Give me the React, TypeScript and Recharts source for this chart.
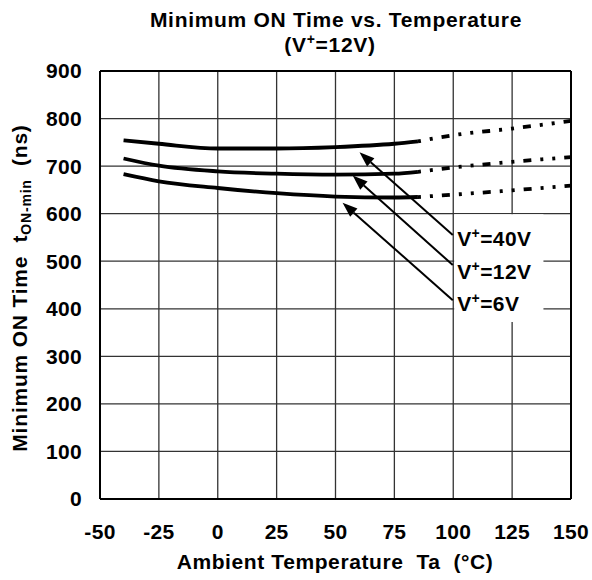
import { LineChart, Line, XAxis, YAxis, CartesianGrid, ReferenceArea, ReferenceLine } from 'recharts';

const xTicks = [-50, -25, 0, 25, 50, 75, 100, 125, 150];
const yTicks = [0, 100, 200, 300, 400, 500, 600, 700, 800, 900];

// measured curves (solid = guaranteed range, dotted = extrapolated)
const v40Solid = [
  { t: -40, v: 754 }, { t: -25, v: 747 }, { t: 0, v: 737 }, { t: 25, v: 737 },
  { t: 50, v: 740 }, { t: 75, v: 747 }, { t: 85, v: 752 },
];
const v40Dotted = [{ t: 85, v: 752 }, { t: 100, v: 765 }, { t: 125, v: 779 }, { t: 150, v: 795 }];

const v12Solid = [
  { t: -40, v: 716 }, { t: -25, v: 701 }, { t: 0, v: 689 }, { t: 25, v: 684 },
  { t: 50, v: 682 }, { t: 75, v: 684 }, { t: 85, v: 688 },
];
const v12Dotted = [{ t: 85, v: 688 }, { t: 100, v: 697 }, { t: 125, v: 709 }, { t: 150, v: 719 }];

const v6Solid = [
  { t: -40, v: 683 }, { t: -25, v: 668 }, { t: 0, v: 654 }, { t: 25, v: 643 },
  { t: 50, v: 636 }, { t: 75, v: 634 }, { t: 85, v: 635 },
];
const v6Dotted = [{ t: 85, v: 635 }, { t: 100, v: 640 }, { t: 125, v: 649 }, { t: 150, v: 659 }];

const arrows = [
  { from: { x: 99.8, y: 555 }, to: { x: 60.2, y: 729 } },
  { from: { x: 99.8, y: 492 }, to: { x: 57.3, y: 680 } },
  { from: { x: 99.8, y: 418 }, to: { x: 53.0, y: 623 } },
];
const seriesLabels = ['40V', '12V', '6V'];

const font = '"Liberation Sans", Arial, sans-serif';
const dash = '3 9 3 9 8 9';

const Arrow = (p: any) => {
  const { x1, y1, x2, y2 } = p;
  const ang = Math.atan2(y2 - y1, x2 - x1);
  const len = 15;
  const half = 5.5;
  const bx = x2 - len * Math.cos(ang);
  const by = y2 - len * Math.sin(ang);
  const px = -Math.sin(ang) * half;
  const py = Math.cos(ang) * half;
  return (
    <g>
      <line x1={x1} y1={y1} x2={bx} y2={by} stroke="#000" strokeWidth={2} />
      <polygon points={`${x2},${y2} ${bx + px},${by + py} ${bx - px},${by - py}`} fill="#000" />
    </g>
  );
};

const LabelBox = (p: any) => {
  const { x, y } = p.viewBox;
  return (
    <g>
      {seriesLabels.map((s, i) => (
        <text key={s} x={x + 3} y={y + 32 + i * 32.5} fontFamily={font} fontWeight="bold" fontSize={21} letterSpacing={0.4} fill="#000">
          V<tspan fontSize={14} dy={-8}>+</tspan><tspan dy={8}>={s}</tspan>
        </text>
      ))}
    </g>
  );
};

const YTitle = () => {
  const cx = 27;
  const cy = 288;
  return (
    <text x={cx} y={cy} transform={`rotate(-90 ${cx} ${cy})`} textAnchor="middle" fontFamily={font}
      fontWeight="bold" fontSize={21} letterSpacing={0.8} fill="#000" style={{ whiteSpace: 'pre' }}>
      Minimum ON Time  t<tspan fontSize={14} dy={4}>ON-min</tspan><tspan dy={-4}>  (ns)</tspan>
    </text>
  );
};

const XTitle = () => (
  <text x={335} y={569} textAnchor="middle" fontFamily={font} fontWeight="bold" fontSize={21}
    letterSpacing={0.6} fill="#000" style={{ whiteSpace: 'pre' }}>
    Ambient Temperature  Ta  (°C)
  </text>
);

const tickStyle = { fontFamily: font, fontWeight: 'bold', fontSize: 21, fill: '#000', letterSpacing: 0.3 };

export default function App() {
  return (
    <div style={{ position: 'absolute', left: 0, top: 0, width: 592, height: 580, background: '#fff' }}>
      <svg width={592} height={60} style={{ position: 'absolute', left: 0, top: 0 }}>
        <text x={336} y={27} textAnchor="middle" fontFamily={font} fontWeight="bold" fontSize={21} letterSpacing={0.7}>
          Minimum ON Time vs. Temperature
        </text>
        <text x={330} y={52} textAnchor="middle" fontFamily={font} fontWeight="bold" fontSize={21} letterSpacing={0.7}>
          (V<tspan fontSize={14} dy={-8}>+</tspan><tspan dy={8}>=12V)</tspan>
        </text>
      </svg>
      <LineChart width={592} height={580} margin={{ top: 71, right: 21, bottom: 51, left: 40 }}
        style={{ position: 'absolute', left: 0, top: 0 }}>
        <CartesianGrid stroke="#333" strokeWidth={1.3} />
        <XAxis type="number" dataKey="t" domain={[-50, 150]} ticks={xTicks} interval={0}
          tickLine={false} tickSize={0} tickMargin={25} height={30}
          axisLine={{ stroke: '#000', strokeWidth: 2 }} tick={tickStyle} label={<XTitle />} allowDuplicatedCategory={false} />
        <YAxis type="number" domain={[0, 900]} ticks={yTicks} interval={0} width={60}
          tickLine={false} tickSize={0} tickMargin={18}
          axisLine={{ stroke: '#000', strokeWidth: 2 }} tick={tickStyle} label={<YTitle />} />
        <ReferenceLine y={900} stroke="#000" strokeWidth={2} />
        <ReferenceLine x={150} stroke="#000" strokeWidth={2} />
        <ReferenceArea x1={100.4} x2={138.3} y1={372} y2={599} fill="#fff" fillOpacity={1} stroke="none"
          label={<LabelBox />} />
        {arrows.map((a, i) => (
          <ReferenceLine key={i} segment={[a.from, a.to]} shape={<Arrow />} />
        ))}
        <Line data={v40Solid} dataKey="v" type="monotone" stroke="#000" strokeWidth={3.8} dot={false} isAnimationActive={false} />
        <Line data={v40Dotted} dataKey="v" type="monotone" stroke="#000" strokeWidth={3.8} strokeDasharray={dash} dot={false} isAnimationActive={false} />
        <Line data={v12Solid} dataKey="v" type="monotone" stroke="#000" strokeWidth={3.8} dot={false} isAnimationActive={false} />
        <Line data={v12Dotted} dataKey="v" type="monotone" stroke="#000" strokeWidth={3.8} strokeDasharray={dash} dot={false} isAnimationActive={false} />
        <Line data={v6Solid} dataKey="v" type="monotone" stroke="#000" strokeWidth={3.8} dot={false} isAnimationActive={false} />
        <Line data={v6Dotted} dataKey="v" type="monotone" stroke="#000" strokeWidth={3.8} strokeDasharray={dash} dot={false} isAnimationActive={false} />
      </LineChart>
    </div>
  );
}
